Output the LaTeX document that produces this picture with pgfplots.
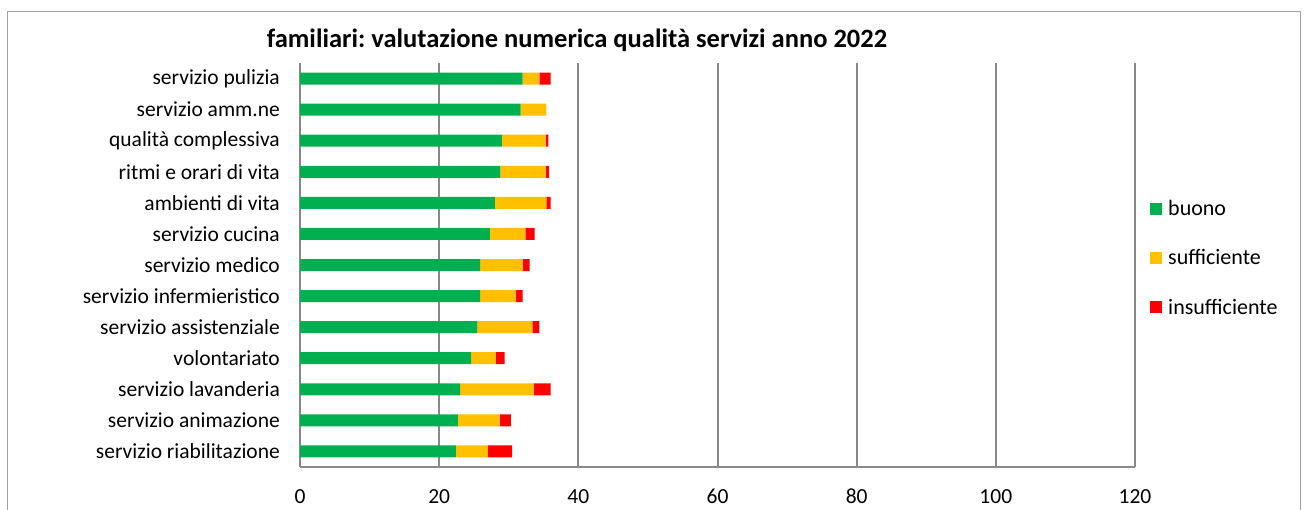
\documentclass[border=0pt]{standalone}
\usepackage{pgfplots}
\usepackage{pgfplotstable}
\pgfplotsset{compat=1.18}
\usepackage{fontspec}
\setmainfont{Carlito}
\frenchspacing
\definecolor{cgreen}{HTML}{00B050}
\definecolor{cyellow}{HTML}{FFC000}
\definecolor{cred}{HTML}{FF0000}
\definecolor{cgrid}{HTML}{898989}
\pgfplotstableread{
y buono sufficiente insufficiente
12 32.0 2.4 1.6
11 31.7 3.7 0.0
10 29.0 6.3 0.4
9 28.8 6.5 0.5
8 28.0 7.4 0.6
7 27.3 5.1 1.3
6 25.9 6.1 1.0
5 25.9 5.1 1.0
4 25.5 7.9 1.0
3 24.6 3.5 1.3
2 23.0 10.6 2.4
1 22.7 6.0 1.6
0 22.4 4.6 3.5
}\datatable
\begin{document}
\begin{tikzpicture}[x=1pt,y=1pt]
\path[use as bounding box] (0,0) rectangle (1308,509);
\draw[color=cgrid!80, line width=1pt] (7,-5) -- (7,497) -- (1300,497) -- (1300,-5);
\node[font=\bfseries\fontsize{26.5}{30}\selectfont] at (577,469) {familiari: valutazione numerica qualità servizi anno 2022};
\begin{axis}[
  at={(300pt,42pt)}, anchor=south west,
  scale only axis, width=835pt, height=404pt,
  xbar stacked, bar width=12pt,
  xmin=0, xmax=120, ymin=-0.5, ymax=12.5,
  xtick={0,20,...,120},
  ytick={0,...,12},
  yticklabels={servizio riabilitazione,servizio animazione,servizio lavanderia,volontariato,servizio assistenziale,servizio infermieristico,servizio medico,servizio cucina,ambienti di vita,ritmi e orari di vita,qualità complessiva,servizio amm.ne,servizio pulizia},
  axis x line*=bottom, axis y line*=left,
  axis line style={cgrid, line width=2pt},
  xmajorgrids, grid style={cgrid, line width=2pt},
  major tick length=0pt,
  tick style={draw=none},
  /pgf/number format/assume math mode=true,
  ticklabel style={font=\fontsize{21.5}{24}\selectfont, text=black},
  yticklabel style={inner sep=0pt, xshift=-20pt},
  xticklabel style={inner sep=0pt, yshift=-22pt},
  legend style={at={(1,0.5)}, anchor=west, xshift=15pt, yshift=7pt, draw=none, fill=none,
    font=\fontsize{22}{25}\selectfont, row sep=28.5pt, inner sep=0pt},
  legend cell align=left,
  legend image code/.code={\fill[#1] (0pt,-6pt) rectangle (12pt,6pt); \path (0pt,0pt) -- (16pt,0pt);},
]
\addplot[fill=cgreen, draw=none] table[x=buono, y=y] {\datatable};
\addplot[fill=cyellow, draw=none] table[x=sufficiente, y=y] {\datatable};
\addplot[fill=cred, draw=none] table[x=insufficiente, y=y] {\datatable};
\legend{buono, sufficiente, insufficiente}
\end{axis}
\end{tikzpicture}
\end{document}
